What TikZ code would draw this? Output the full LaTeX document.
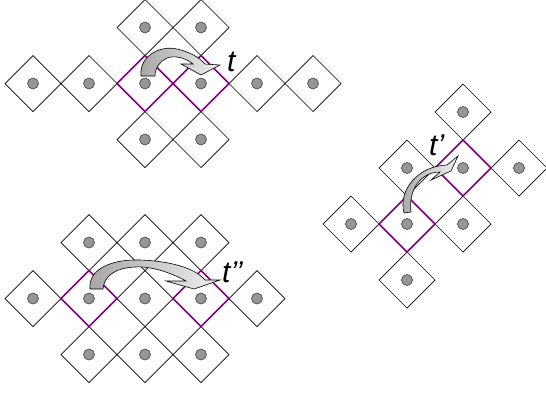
\documentclass[tikz,border=0pt]{standalone}
\usepackage{fontspec}
\setmainfont{Liberation Sans}
\usetikzlibrary{shapes.geometric}
\definecolor{violetline}{RGB}{128,0,128}
\definecolor{dotgray}{RGB}{150,150,150}
\tikzset{
  cell/.style={diamond, draw=black, line width=0.7pt, minimum width=56pt, minimum height=56pt, inner sep=0pt, outer sep=0pt},
  sel/.style={cell, draw=violetline, line width=1.7pt},
  dot/.style={circle, draw=black!75, fill=dotgray, line width=0.6pt, minimum size=11pt, inner sep=0pt},
  bent/.style={draw=black, line width=0.6pt, left color=gray!70, right color=gray!12},
  lab/.style={font=\fontsize{30}{30}\selectfont\itshape, anchor=base west, inner sep=0pt}
}
\begin{document}
\begin{tikzpicture}[x=1pt,y=-1pt]
\useasboundingbox (0,0) rectangle (546,392);
% black cells
\foreach \x/\y/\n in {145/27.5/a1,201/27.5/a2,33/83.5/a3,89/83.5/a4,257/83.5/a5,313/83.5/a6,145/139.5/a7,201/139.5/a8,
  89/242.5/b1,145/242.5/b2,201/242.5/b3,33/298.5/b4,145/298.5/b5,257/298.5/b6,89/354.5/b7,145/354.5/b8,201/354.5/b9,
  463/112/c1,407/168/c2,519/168/c3,351/224/c4,463/224/c5,407/280/c6}
  {\node[cell] (\n) at (\x,\y) {}; \node[dot] (d\n) at (\n) {};}
% purple cells
\foreach \x/\y/\n in {145/83.5/p1,201/83.5/p2,89/298.5/p3,201/298.5/p4,407/224/p5,463/168/p6}
  {\node[sel] (\n) at (\x,\y) {}; \node[dot] (d\n) at (\n) {};}
% arrows
\path[bent] (141,76) .. controls (139,56) and (160,45) .. (177,49)
  .. controls (190,52) and (200,58) .. (205,64) -- (220,65) -- (201,75) -- (181,64) -- (193,64)
  .. controls (186,58) and (175,55) .. (167,58) .. controls (160,61) and (155,68) .. (155,76) -- cycle;
\path[bent] (90,289) .. controls (88,270) and (110,259) .. (140,260)
  .. controls (170,261) and (195,268) .. (205,280) -- (220,280) -- (194,289) -- (166,281) -- (186,281)
  .. controls (170,272) and (150,266) .. (135,267) .. controls (115,268) and (104,276) .. (103,289) -- cycle;
\path[bent] (404,213) .. controls (398,190) and (418,166) .. (447,165) -- (458,156) -- (451,171) -- (431,180) -- (440,172)
  .. controls (422,172) and (408,188) .. (411,212) -- cycle;
% labels
\node[lab] (lt) at (227,71) {t};
\node[lab] (ltp) at (429,155) {t’};
\node[lab] (ltpp) at (222,282) {t’’};
\end{tikzpicture}
\end{document}
